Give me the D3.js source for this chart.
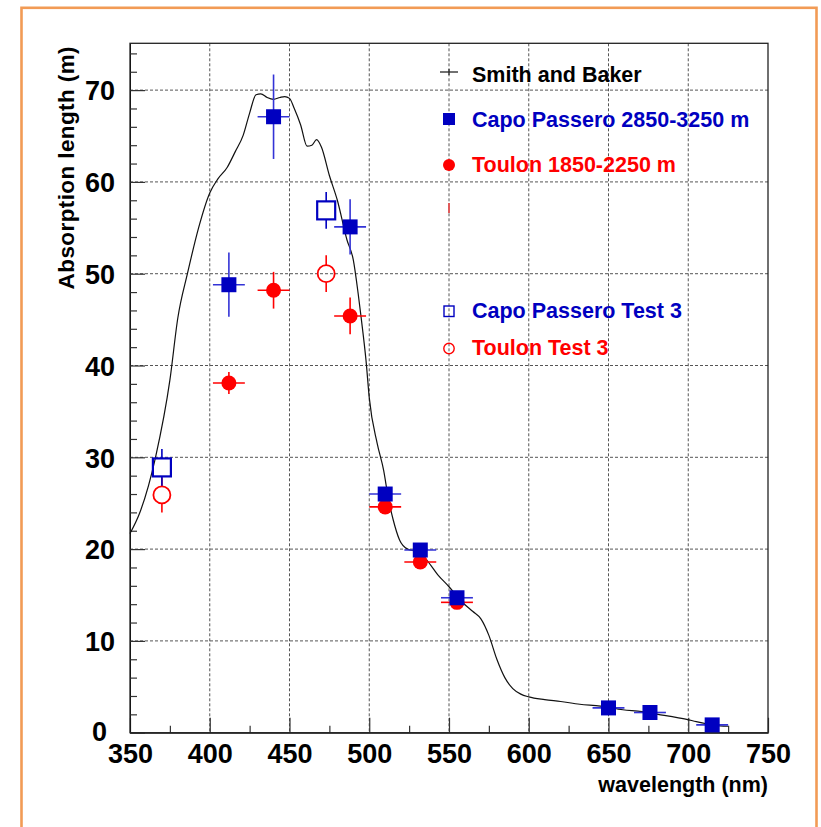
<!DOCTYPE html>
<html>
<head>
<meta charset="utf-8">
<script src="https://cdn.jsdelivr.net/npm/d3@7"></script>
<style>
  html, body { margin: 0; padding: 0; background: #ffffff; }
  svg { display: block; }
  text { font-family: "Liberation Sans", Arial, Helvetica, sans-serif; font-weight: bold; }
</style>
</head>
<body>
<svg id="chart" width="821" height="827"></svg>
<script>
// ---------- data ----------
const smithNm  = [350,356,366,375,380,386,393,400,405,411,416,421,425,429,432,436,440,444,447,450,453,457,461,464,467,470,475,480,486,490,493,495,498,500,505,509,512,515,519,524,530,536,543,550,559,565,570,575,580,585,590,595,600,610,620,632,645,659,671,681,690,699,705,712,720,725];
const smithAbs = [21.7,23.9,30.0,38.4,45.2,50.0,55.0,58.8,60.3,61.6,63.3,65.1,67.5,69.5,69.6,69.2,69.0,69.2,69.3,69.1,68.0,66.2,63.9,64.0,64.6,63.8,60.7,58.0,53.7,51.5,47.9,45.1,40.5,36.5,31.5,28.6,25.5,23.2,21.0,20.0,19.7,18.8,17.2,15.9,14.1,13.2,12.4,10.6,8.0,6.0,4.8,4.2,3.9,3.6,3.4,3.1,2.9,2.5,2.3,2.0,1.75,1.46,1.2,0.95,0.75,0.7];

const capoNm     = [412,440,488,510,532,555,650,676,715];
const capoAbs    = [48.8,67.1,55.1,26.0,19.9,14.7,2.7,2.2,0.85];
const capoErrNm  = [10,10,10,10,10,10,10,10,10];
const capoErrAbs = [3.5,4.6,3.0,0.6,0.5,0.4,0.3,0.3,0.3];

const toulonNm     = [412,440,488,510,532,555];
const toulonAbs    = [38.1,48.2,45.4,24.6,18.6,14.2];
const toulonErrNm  = [10,10,10,10,10,10];
const toulonErrAbs = [1.2,2.0,2.0,0.5,0.5,0.4];

const capoTestNm     = [370,473];
const capoTestAbs    = [28.9,56.9];
const capoTestErrAbs = [2.0,2.0];

const toulonTestNm     = [370,473];
const toulonTestAbs    = [25.9,50.0];
const toulonTestErrAbs = [1.9,2.0];

const xTicks = [350,400,450,500,550,600,650,700,750];
const yTicks = [0,10,20,30,40,50,60,70];

const legendLabels = ["Smith and Baker","Capo Passero 2850-3250 m","Toulon 1850-2250 m","","Capo Passero Test 3","Toulon Test 3"];

// ---------- layout ----------
const BLUE = "#0000c0", BLUE_ERR = "#3333d6", RED = "#ff0000";
const pL = 130, pR = 768, pT = 43.3, pB = 732.7;

const svg = d3.select("#chart");
svg.append("rect").attr("x",0).attr("y",0).attr("width",821).attr("height",827).attr("fill","#fff");
// orange outer frame
svg.append("rect").attr("x",21.5).attr("y",7.8).attr("width",795).attr("height",860)
  .attr("fill","none").attr("stroke","#f29b55").attr("stroke-width",2.6);

const x = d3.scaleLinear().domain([350,750]).range([pL,pR]);
const y = d3.scaleLinear().domain([0,75.1]).range([pB,pT]);

// grid
const grid = svg.append("g");
xTicks.filter(d => d > 350 && d < 750).forEach(d => {
  grid.append("line").attr("x1",x(d)).attr("x2",x(d)).attr("y1",pT).attr("y2",pB)
    .attr("stroke","#555").attr("stroke-width",1).attr("stroke-dasharray","3,2");
});
yTicks.filter(d => d > 0).forEach(d => {
  grid.append("line").attr("x1",pL).attr("x2",pR).attr("y1",y(d)).attr("y2",y(d))
    .attr("stroke","#555").attr("stroke-width",1).attr("stroke-dasharray","3,2");
});

// axes
const xMinor = d3.range(375,750,50);
const yMinor = d3.range(0,75,2).filter(d => d % 10 !== 0);

const gx = svg.append("g").attr("transform",`translate(0,${pB})`)
  .call(d3.axisBottom(x).tickValues(xTicks).tickFormat(d3.format("d")).tickSizeInner(-15).tickSizeOuter(0).tickPadding(11));
gx.append("g").call(d3.axisBottom(x).tickValues(xMinor).tickFormat("").tickSizeInner(-7).tickSizeOuter(0))
  .select(".domain").remove();
const gy = svg.append("g").attr("transform",`translate(${pL},0)`)
  .call(d3.axisLeft(y).tickValues(yTicks).tickFormat(d3.format("d")).tickSizeInner(-15).tickSizeOuter(0).tickPadding(15));
gy.append("g").call(d3.axisLeft(y).tickValues(yMinor).tickFormat("").tickSizeInner(-7).tickSizeOuter(0))
  .select(".domain").remove();
[gx, gy].forEach(g => {
  g.selectAll("line").attr("stroke","#333").attr("stroke-width",1.2);
  g.selectAll("text").attr("font-size",27).attr("fill","#000")
    .attr("font-family",'"Liberation Sans", Arial, sans-serif').attr("font-weight","bold");
});
gy.selectAll(".tick text").attr("dy", "0.36em");
gy.selectAll(".tick text").filter(d => d === 0).attr("x", -23).attr("dy", "0.3em");

// frame
svg.append("rect").attr("x",pL).attr("y",pT).attr("width",pR-pL).attr("height",pB-pT)
  .attr("fill","none").attr("stroke","#222").attr("stroke-width",1.3);

// axis titles
svg.append("text").attr("x",pR).attr("y",792).attr("text-anchor","end")
  .attr("font-size",21.5).attr("fill","#000").text("wavelength (nm)");
svg.append("text").attr("transform","translate(74,46) rotate(-90)").attr("text-anchor","end")
  .attr("font-size",22.5).attr("letter-spacing","0.4px").attr("fill","#000").text("Absorption length (m)");

// Smith and Baker curve
const line = d3.line().x((d,i) => x(smithNm[i])).y((d,i) => y(smithAbs[i])).curve(d3.curveMonotoneX);
svg.append("path").datum(smithAbs).attr("d",line).attr("fill","none")
  .attr("stroke","#111").attr("stroke-width",1.2);

// helpers
function filledPoints(nm, abs, eNm, eAbs, color, errColor, shape, size) {
  const g = svg.append("g");
  nm.forEach((d,i) => {
    const cx = x(d), cy = y(abs[i]);
    g.append("line").attr("x1",x(d-eNm[i])).attr("x2",x(d+eNm[i])).attr("y1",cy).attr("y2",cy)
      .attr("stroke",errColor).attr("stroke-width",1.6);
    g.append("line").attr("x1",cx).attr("x2",cx).attr("y1",y(abs[i]+eAbs[i])).attr("y2",y(abs[i]-eAbs[i]))
      .attr("stroke",errColor).attr("stroke-width",1.6);
  });
  nm.forEach((d,i) => {
    const cx = x(d), cy = y(abs[i]);
    if (shape === "square")
      g.append("rect").attr("x",cx-size/2).attr("y",cy-size/2).attr("width",size).attr("height",size).attr("fill",color);
    else
      g.append("circle").attr("cx",cx).attr("cy",cy).attr("r",size/2).attr("fill",color);
  });
}
function openPoints(nm, abs, eAbs, color, shape, size) {
  const g = svg.append("g");
  nm.forEach((d,i) => {
    const cx = x(d), cy = y(abs[i]);
    const yt = y(abs[i]+eAbs[i]), yb = y(abs[i]-eAbs[i]);
    if (yt < cy-size/2) g.append("line").attr("x1",cx).attr("x2",cx).attr("y1",yt).attr("y2",cy-size/2)
      .attr("stroke",color).attr("stroke-width",1.6);
    if (yb > cy+size/2) g.append("line").attr("x1",cx).attr("x2",cx).attr("y1",cy+size/2).attr("y2",yb)
      .attr("stroke",color).attr("stroke-width",1.6);
    if (shape === "square")
      g.append("rect").attr("x",cx-size/2).attr("y",cy-size/2).attr("width",size).attr("height",size)
        .attr("fill","none").attr("stroke",color).attr("stroke-width",2.2);
    else
      g.append("circle").attr("cx",cx).attr("cy",cy).attr("r",size/2)
        .attr("fill","none").attr("stroke",color).attr("stroke-width",1.8);
  });
}

openPoints(toulonTestNm, toulonTestAbs, toulonTestErrAbs, RED, "circle", 17);
openPoints(capoTestNm, capoTestAbs, capoTestErrAbs, BLUE, "square", 18);
filledPoints(toulonNm, toulonAbs, toulonErrNm, toulonErrAbs, RED, RED, "circle", 15);
filledPoints(capoNm, capoAbs, capoErrNm, capoErrAbs, BLUE, BLUE_ERR, "square", 15);

// legend
const lg = svg.append("g");
const lx = 449, tx = 472;
const lBase = [81.5,127,171.5,208,318,354.5];
const lColors = ["#000",BLUE,RED,RED,BLUE,RED];
legendLabels.forEach((t,i) => {
  if (t) lg.append("text").attr("x",tx).attr("y",lBase[i]).attr("font-size",21.5).attr("fill",lColors[i]).text(t);
});
// symbols
lg.append("line").attr("x1",440).attr("x2",458).attr("y1",72).attr("y2",72).attr("stroke","#111").attr("stroke-width",1.2);
lg.append("line").attr("x1",lx).attr("x2",lx).attr("y1",69).attr("y2",75).attr("stroke","#111").attr("stroke-width",1);
lg.append("rect").attr("x",lx-6).attr("y",113).attr("width",12).attr("height",12).attr("fill",BLUE);
lg.append("circle").attr("cx",lx).attr("cy",165).attr("r",6).attr("fill",RED);
lg.append("line").attr("x1",lx).attr("x2",lx).attr("y1",203).attr("y2",213).attr("stroke","#e05a5a").attr("stroke-width",2);
lg.append("rect").attr("x",lx-5).attr("y",306).attr("width",10).attr("height",10.5).attr("fill","none").attr("stroke",BLUE).attr("stroke-width",1.4);
lg.append("circle").attr("cx",lx).attr("cy",348.5).attr("r",5.2).attr("fill","none").attr("stroke",RED).attr("stroke-width",1.4);
</script>
</body>
</html>
